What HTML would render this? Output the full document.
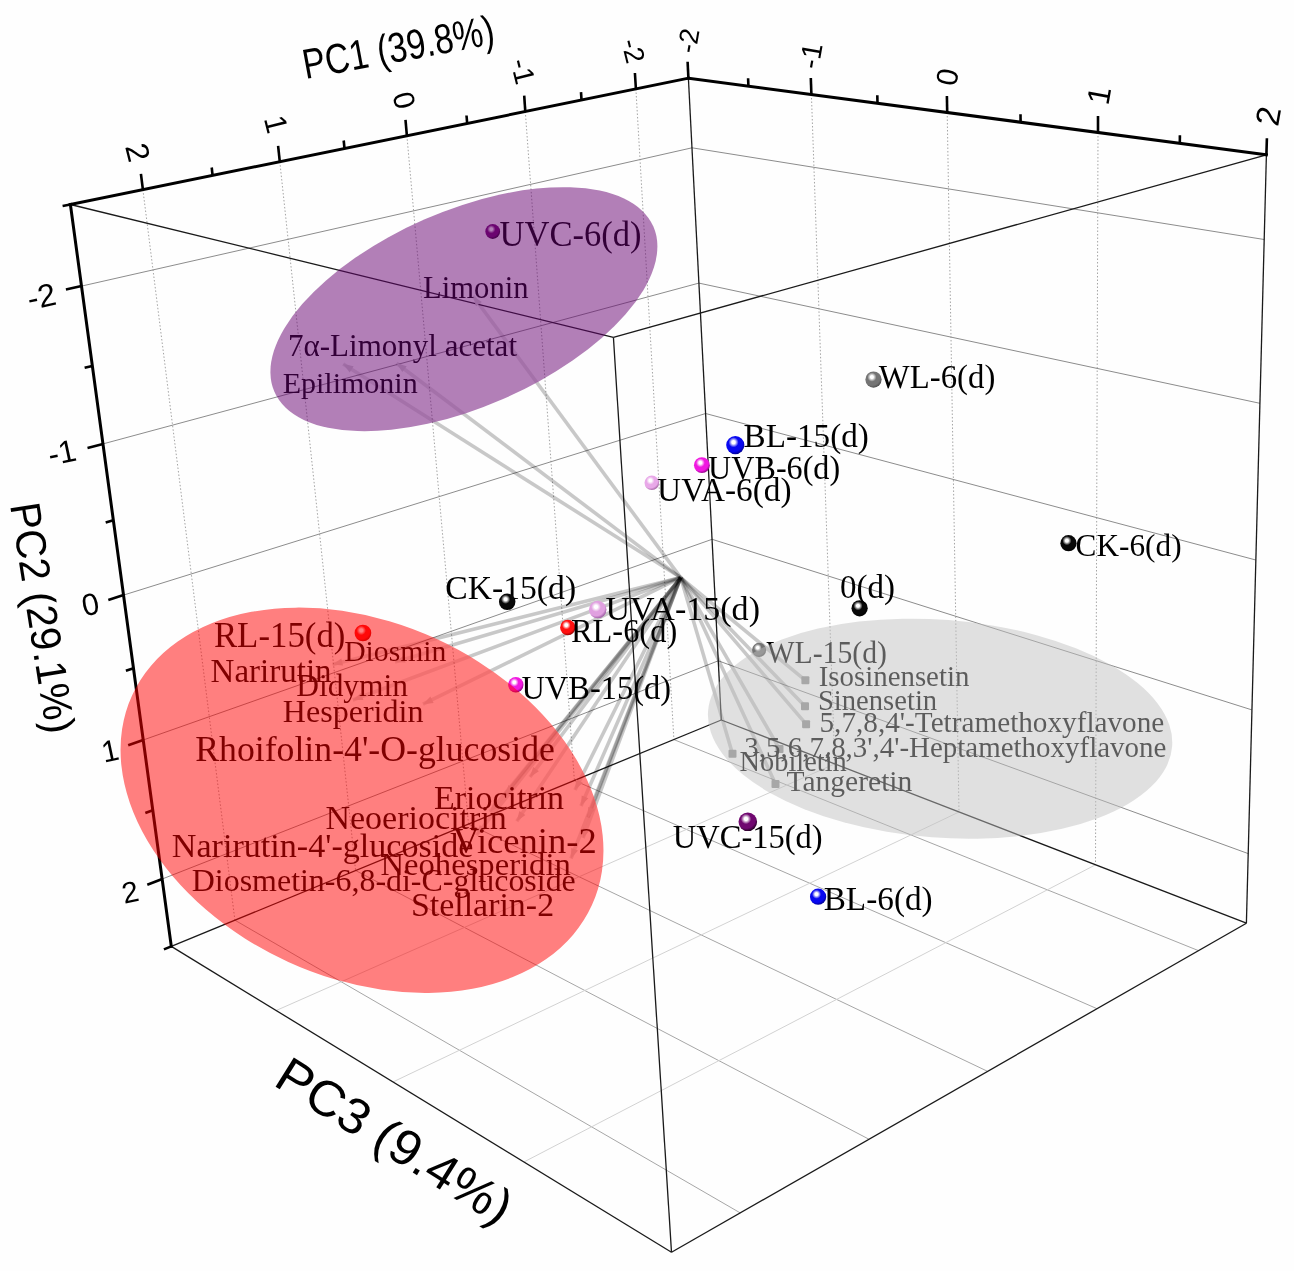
<!DOCTYPE html>
<html><head><meta charset="utf-8"><title>PCA biplot</title>
<style>html,body{margin:0;padding:0;background:#fff}svg{display:block;will-change:transform}</style></head>
<body>
<svg width="1294" height="1271" viewBox="0 0 1294 1271">
<rect width="1294" height="1271" fill="#fefefe"/>
<defs>
<filter id="soft" x="-5%" y="-5%" width="110%" height="110%"><feGaussianBlur stdDeviation="0.55"/></filter>
<mask id="mout" maskUnits="userSpaceOnUse" x="0" y="0" width="1294" height="1271"><rect width="1294" height="1271" fill="#fff"/><ellipse rx="252.7" ry="177.7" transform="translate(362,800.3) rotate(24.5)" fill="#000"/><ellipse rx="206.7" ry="98" transform="translate(463.9,309.2) rotate(-23.55)" fill="#000"/></mask>
<mask id="min" maskUnits="userSpaceOnUse" x="0" y="0" width="1294" height="1271"><rect width="1294" height="1271" fill="#000"/><ellipse rx="252.7" ry="177.7" transform="translate(362,800.3) rotate(24.5)" fill="#fff"/><ellipse rx="206.7" ry="98" transform="translate(463.9,309.2) rotate(-23.55)" fill="#fff"/></mask>
<radialGradient id="s0" cx="0.41" cy="0.36" r="0.66" fx="0.40" fy="0.34"><stop offset="0" stop-color="#fff"/><stop offset="0.14" stop-color="#fff"/><stop offset="0.42" stop-color="#700870"/><stop offset="0.75" stop-color="#700870"/><stop offset="1" stop-color="#200020"/></radialGradient>
<radialGradient id="s1" cx="0.41" cy="0.36" r="0.66" fx="0.40" fy="0.34"><stop offset="0" stop-color="#fff"/><stop offset="0.14" stop-color="#fff"/><stop offset="0.42" stop-color="#747474"/><stop offset="0.75" stop-color="#747474"/><stop offset="1" stop-color="#4c4c4c"/></radialGradient>
<radialGradient id="s2" cx="0.41" cy="0.36" r="0.66" fx="0.40" fy="0.34"><stop offset="0" stop-color="#fff"/><stop offset="0.14" stop-color="#fff"/><stop offset="0.42" stop-color="#0808f0"/><stop offset="0.75" stop-color="#0808f0"/><stop offset="1" stop-color="#000090"/></radialGradient>
<radialGradient id="s3" cx="0.41" cy="0.36" r="0.66" fx="0.40" fy="0.34"><stop offset="0" stop-color="#fff"/><stop offset="0.14" stop-color="#fff"/><stop offset="0.42" stop-color="#f018e0"/><stop offset="0.75" stop-color="#f018e0"/><stop offset="1" stop-color="#8a0080"/></radialGradient>
<radialGradient id="s4" cx="0.41" cy="0.36" r="0.66" fx="0.40" fy="0.34"><stop offset="0" stop-color="#fff"/><stop offset="0.14" stop-color="#fff"/><stop offset="0.42" stop-color="#e8a8e8"/><stop offset="0.75" stop-color="#e8a8e8"/><stop offset="1" stop-color="#a060a0"/></radialGradient>
<radialGradient id="s5" cx="0.41" cy="0.36" r="0.66" fx="0.40" fy="0.34"><stop offset="0" stop-color="#fff"/><stop offset="0.14" stop-color="#fff"/><stop offset="0.42" stop-color="#080808"/><stop offset="0.75" stop-color="#080808"/><stop offset="1" stop-color="#000"/></radialGradient>
<radialGradient id="s6" cx="0.41" cy="0.36" r="0.66" fx="0.40" fy="0.34"><stop offset="0" stop-color="#fff"/><stop offset="0.14" stop-color="#fff"/><stop offset="0.42" stop-color="#080808"/><stop offset="0.75" stop-color="#080808"/><stop offset="1" stop-color="#000"/></radialGradient>
<radialGradient id="s8" cx="0.41" cy="0.36" r="0.66" fx="0.40" fy="0.34"><stop offset="0" stop-color="#fff"/><stop offset="0.14" stop-color="#fff"/><stop offset="0.42" stop-color="#e0a0e0"/><stop offset="0.75" stop-color="#e0a0e0"/><stop offset="1" stop-color="#9858a0"/></radialGradient>
<radialGradient id="s9" cx="0.41" cy="0.36" r="0.66" fx="0.40" fy="0.34"><stop offset="0" stop-color="#fff"/><stop offset="0.14" stop-color="#fff"/><stop offset="0.42" stop-color="#ff1010"/><stop offset="0.75" stop-color="#ff1010"/><stop offset="1" stop-color="#900000"/></radialGradient>
<radialGradient id="s10" cx="0.41" cy="0.36" r="0.66" fx="0.40" fy="0.34"><stop offset="0" stop-color="#fff"/><stop offset="0.14" stop-color="#fff"/><stop offset="0.42" stop-color="#ff1010"/><stop offset="0.75" stop-color="#ff1010"/><stop offset="1" stop-color="#b00000"/></radialGradient>
<radialGradient id="s11" cx="0.41" cy="0.36" r="0.66" fx="0.40" fy="0.34"><stop offset="0" stop-color="#fff"/><stop offset="0.14" stop-color="#fff"/><stop offset="0.42" stop-color="#f018e0"/><stop offset="0.75" stop-color="#f018e0"/><stop offset="1" stop-color="#8a0080"/></radialGradient>
<radialGradient id="s12" cx="0.41" cy="0.36" r="0.66" fx="0.40" fy="0.34"><stop offset="0" stop-color="#fff"/><stop offset="0.14" stop-color="#fff"/><stop offset="0.42" stop-color="#747474"/><stop offset="0.75" stop-color="#747474"/><stop offset="1" stop-color="#4c4c4c"/></radialGradient>
<radialGradient id="s14" cx="0.41" cy="0.36" r="0.66" fx="0.40" fy="0.34"><stop offset="0" stop-color="#fff"/><stop offset="0.14" stop-color="#fff"/><stop offset="0.42" stop-color="#0808f0"/><stop offset="0.75" stop-color="#0808f0"/><stop offset="1" stop-color="#000090"/></radialGradient>
<radialGradient id="s7" cx="0.41" cy="0.36" r="0.66" fx="0.40" fy="0.34"><stop offset="0" stop-color="#fff"/><stop offset="0.14" stop-color="#fff"/><stop offset="0.42" stop-color="#080808"/><stop offset="0.75" stop-color="#080808"/><stop offset="1" stop-color="#000"/></radialGradient>
<radialGradient id="s13" cx="0.41" cy="0.36" r="0.66" fx="0.40" fy="0.34"><stop offset="0" stop-color="#fff"/><stop offset="0.14" stop-color="#fff"/><stop offset="0.42" stop-color="#700870"/><stop offset="0.75" stop-color="#700870"/><stop offset="1" stop-color="#200020"/></radialGradient>
</defs>
<g fill="none">
<line x1="635.9" y1="89.0" x2="673.9" y2="739.6" stroke="#a4a4a4" stroke-width="1" stroke-dasharray="1.5 2"/>
<line x1="525.3" y1="111.6" x2="574.4" y2="780.5" stroke="#a4a4a4" stroke-width="1" stroke-dasharray="1.5 2"/>
<line x1="406.9" y1="135.8" x2="468.5" y2="824.1" stroke="#a4a4a4" stroke-width="1" stroke-dasharray="1.5 2"/>
<line x1="279.8" y1="161.7" x2="355.6" y2="870.5" stroke="#a4a4a4" stroke-width="1" stroke-dasharray="1.5 2"/>
<line x1="142.9" y1="189.7" x2="234.9" y2="920.2" stroke="#a4a4a4" stroke-width="1" stroke-dasharray="1.5 2"/>
<line x1="81.5" y1="286.1" x2="692.0" y2="147.8" stroke="#8c8c8c" stroke-width="1" />
<line x1="103.0" y1="443.9" x2="698.9" y2="283.1" stroke="#8c8c8c" stroke-width="1" />
<line x1="123.5" y1="595.1" x2="705.6" y2="413.5" stroke="#8c8c8c" stroke-width="1" />
<line x1="143.2" y1="740.0" x2="712.1" y2="539.3" stroke="#8c8c8c" stroke-width="1" />
<line x1="162.2" y1="879.0" x2="718.3" y2="660.8" stroke="#8c8c8c" stroke-width="1" />
<line x1="811.4" y1="94.5" x2="834.8" y2="763.9" stroke="#a4a4a4" stroke-width="1" stroke-dasharray="1.5 2"/>
<line x1="947.2" y1="112.5" x2="959.0" y2="812.0" stroke="#a4a4a4" stroke-width="1" stroke-dasharray="1.5 2"/>
<line x1="1098.0" y1="132.5" x2="1095.5" y2="864.8" stroke="#a4a4a4" stroke-width="1" stroke-dasharray="1.5 2"/>
<line x1="692.0" y1="147.8" x2="1264.2" y2="239.5" stroke="#8c8c8c" stroke-width="1" />
<line x1="698.9" y1="283.1" x2="1259.9" y2="403.3" stroke="#8c8c8c" stroke-width="1" />
<line x1="705.6" y1="413.5" x2="1255.8" y2="560.0" stroke="#8c8c8c" stroke-width="1" />
<line x1="712.1" y1="539.3" x2="1251.9" y2="709.9" stroke="#8c8c8c" stroke-width="1" />
<line x1="718.3" y1="660.8" x2="1248.2" y2="853.6" stroke="#8c8c8c" stroke-width="1" />
<line x1="673.9" y1="739.6" x2="1198.4" y2="950.6" stroke="#a6a6a6" stroke-width="1" />
<line x1="574.4" y1="780.5" x2="1097.0" y2="1008.7" stroke="#a6a6a6" stroke-width="1" />
<line x1="468.5" y1="824.1" x2="987.5" y2="1071.3" stroke="#a6a6a6" stroke-width="1" />
<line x1="355.6" y1="870.5" x2="868.9" y2="1139.2" stroke="#a6a6a6" stroke-width="1" />
<line x1="234.9" y1="920.2" x2="740.2" y2="1212.9" stroke="#a6a6a6" stroke-width="1" />
<line x1="834.8" y1="763.9" x2="276.2" y2="1010.5" stroke="#d2d2d2" stroke-width="1" />
<line x1="959.0" y1="812.0" x2="393.1" y2="1081.9" stroke="#d2d2d2" stroke-width="1" />
<line x1="1095.5" y1="864.8" x2="523.9" y2="1162.0" stroke="#d2d2d2" stroke-width="1" />
</g>
<g stroke="#1a1a1a" stroke-width="1.3" fill="none">
<line x1="70.4" y1="204.5" x2="613.4" y2="337.4"/>
<line x1="1266.4" y1="154.8" x2="613.4" y2="337.4"/>
<line x1="613.4" y1="337.4" x2="671.5" y2="1252.2"/>
<line x1="171.3" y1="946.4" x2="671.5" y2="1252.2"/>
<line x1="671.5" y1="1252.2" x2="1246.4" y2="923.2"/>
<line x1="1266.4" y1="154.8" x2="1246.4" y2="923.2"/>
<line x1="688.4" y1="78.2" x2="721.3" y2="720.0"/>
<line x1="721.3" y1="720.0" x2="171.3" y2="946.4"/>
<line x1="721.3" y1="720.0" x2="1246.4" y2="923.2"/>
</g>
<g stroke="#000" stroke-width="3" stroke-linecap="square" fill="none">
<line x1="70.4" y1="204.5" x2="688.4" y2="78.2"/>
<line x1="688.4" y1="78.2" x2="1266.4" y2="154.8"/>
<line x1="70.4" y1="204.5" x2="171.3" y2="946.4"/>
</g>
<g stroke="#000" stroke-width="2.6" stroke-linecap="butt" fill="none">
<line x1="635.9" y1="89.0" x2="634.9" y2="73.0"/>
<line x1="581.5" y1="100.1" x2="581.0" y2="92.1"/>
<line x1="525.3" y1="111.6" x2="524.2" y2="95.6"/>
<line x1="467.2" y1="123.4" x2="466.5" y2="115.5"/>
<line x1="406.9" y1="135.8" x2="405.5" y2="119.8"/>
<line x1="344.5" y1="148.5" x2="343.7" y2="140.5"/>
<line x1="279.8" y1="161.7" x2="278.1" y2="145.8"/>
<line x1="212.6" y1="175.5" x2="211.7" y2="167.5"/>
<line x1="142.9" y1="189.7" x2="140.9" y2="173.8"/>
<line x1="688.4" y1="78.2" x2="687.6" y2="61.8"/>
<line x1="748.4" y1="86.2" x2="748.1" y2="78.2"/>
<line x1="811.4" y1="94.5" x2="810.8" y2="78.0"/>
<line x1="877.5" y1="103.3" x2="877.3" y2="95.3"/>
<line x1="947.2" y1="112.5" x2="946.9" y2="96.0"/>
<line x1="1020.6" y1="122.2" x2="1020.5" y2="114.2"/>
<line x1="1098.0" y1="132.5" x2="1098.0" y2="116.0"/>
<line x1="1179.8" y1="143.3" x2="1179.9" y2="135.3"/>
<line x1="1266.4" y1="154.8" x2="1266.9" y2="138.3"/>
<line x1="70.4" y1="204.5" x2="62.6" y2="206.1"/>
<line x1="81.5" y1="286.1" x2="65.9" y2="289.6"/>
<line x1="92.3" y1="365.9" x2="84.6" y2="367.8"/>
<line x1="103.0" y1="443.9" x2="87.5" y2="448.1"/>
<line x1="113.4" y1="520.3" x2="105.7" y2="522.6"/>
<line x1="123.5" y1="595.1" x2="108.3" y2="599.9"/>
<line x1="133.5" y1="668.3" x2="125.9" y2="670.8"/>
<line x1="143.2" y1="740.0" x2="128.2" y2="745.3"/>
<line x1="152.8" y1="810.2" x2="145.3" y2="813.0"/>
<line x1="162.2" y1="879.0" x2="147.3" y2="884.8"/>
<line x1="171.3" y1="946.4" x2="163.9" y2="949.4"/>
</g>
<text transform="translate(138.3,152.3) rotate(76)" x="0" y="11.4" text-anchor="middle" font-size="31.8" font-family="Liberation Sans, sans-serif" fill="#000">2</text>
<text transform="translate(276.5,124.1) rotate(76)" x="0" y="11.0" text-anchor="middle" font-size="30.7" font-family="Liberation Sans, sans-serif" fill="#000">1</text>
<text transform="translate(404.5,100.1) rotate(76)" x="0" y="10.6" text-anchor="middle" font-size="29.6" font-family="Liberation Sans, sans-serif" fill="#000">0</text>
<text transform="translate(523.2,71.2) rotate(76)" x="0" y="10.2" text-anchor="middle" font-size="28.6" font-family="Liberation Sans, sans-serif" fill="#000">-1</text>
<text transform="translate(633.5,50.7) rotate(76)" x="0" y="9.9" text-anchor="middle" font-size="27.6" font-family="Liberation Sans, sans-serif" fill="#000">-2</text>
<text transform="translate(687.9,40.6) rotate(-80)" x="0" y="9.7" text-anchor="middle" font-size="27.2" font-family="Liberation Sans, sans-serif" fill="#000">-2</text>
<text transform="translate(810.5,55.7) rotate(-80)" x="0" y="10.2" text-anchor="middle" font-size="28.5" font-family="Liberation Sans, sans-serif" fill="#000">-1</text>
<text transform="translate(947.0,76.9) rotate(-80)" x="0" y="10.7" text-anchor="middle" font-size="30.0" font-family="Liberation Sans, sans-serif" fill="#000">0</text>
<text transform="translate(1098.6,95.4) rotate(-80)" x="0" y="11.3" text-anchor="middle" font-size="31.7" font-family="Liberation Sans, sans-serif" fill="#000">1</text>
<text transform="translate(1267.7,116.0) rotate(-80)" x="0" y="12.0" text-anchor="middle" font-size="33.5" font-family="Liberation Sans, sans-serif" fill="#000">2</text>
<text transform="translate(41.3,295.9) rotate(-12)" x="0" y="11.5" text-anchor="middle" font-size="32.1" font-family="Liberation Sans, sans-serif" fill="#000">-2</text>
<text transform="translate(61.8,452.0) rotate(-12)" x="0" y="11.2" text-anchor="middle" font-size="31.4" font-family="Liberation Sans, sans-serif" fill="#000">-1</text>
<text transform="translate(90.4,604.0) rotate(-12)" x="0" y="11.0" text-anchor="middle" font-size="30.7" font-family="Liberation Sans, sans-serif" fill="#000">0</text>
<text transform="translate(110.0,750.4) rotate(-12)" x="0" y="10.8" text-anchor="middle" font-size="30.1" font-family="Liberation Sans, sans-serif" fill="#000">1</text>
<text transform="translate(130.0,891.6) rotate(-12)" x="0" y="10.6" text-anchor="middle" font-size="29.5" font-family="Liberation Sans, sans-serif" fill="#000">2</text>
<text transform="translate(305.6,79.1) rotate(-10.5)" x="0" y="0" font-size="42" textLength="194" lengthAdjust="spacingAndGlyphs" font-family="Liberation Sans, sans-serif" fill="#000">PC1 (39.8%)</text>
<text transform="translate(10.0,505.0) rotate(81)" x="0" y="0" font-size="42.5" textLength="233" lengthAdjust="spacingAndGlyphs" font-family="Liberation Sans, sans-serif" fill="#000">PC2 (29.1%)</text>
<text transform="translate(272.0,1084.5) rotate(32)" x="0" y="0" font-size="50" textLength="268" lengthAdjust="spacingAndGlyphs" font-family="Liberation Sans, sans-serif" fill="#000">PC3 (9.4%)</text>
<g mask="url(#mout)"><g stroke="#000" stroke-opacity="0.21" stroke-width="3.6" fill="none" filter="url(#soft)">
<line x1="680.7" y1="577.6" x2="473.0" y2="296.0"/>
<line x1="680.7" y1="577.6" x2="396.5" y2="363.2"/>
<line x1="680.7" y1="577.6" x2="343.2" y2="364.0"/>
<line x1="680.7" y1="577.6" x2="332.5" y2="664.5"/>
<line x1="680.7" y1="577.6" x2="395.0" y2="662.0"/>
<line x1="680.7" y1="577.6" x2="352.8" y2="700.0"/>
<line x1="680.7" y1="577.6" x2="423.0" y2="704.2"/>
<line x1="680.7" y1="577.6" x2="476.4" y2="835.1"/>
<line x1="680.7" y1="577.6" x2="490.0" y2="812.0"/>
<line x1="680.7" y1="577.6" x2="505.0" y2="795.0"/>
<line x1="680.7" y1="577.6" x2="530.0" y2="777.0"/>
<line x1="680.7" y1="577.6" x2="516.8" y2="821.2"/>
<line x1="680.7" y1="577.6" x2="575.0" y2="790.0"/>
<line x1="680.7" y1="577.6" x2="581.0" y2="806.0"/>
<line x1="680.7" y1="577.6" x2="588.0" y2="817.5"/>
<line x1="680.7" y1="577.6" x2="571.0" y2="858.5"/>
<line x1="680.7" y1="577.6" x2="583.0" y2="838.0"/>
<line x1="680.7" y1="577.6" x2="805.4" y2="680.3"/>
<line x1="680.7" y1="577.6" x2="805.0" y2="706.2"/>
<line x1="680.7" y1="577.6" x2="806.1" y2="724.2"/>
<line x1="680.7" y1="577.6" x2="779.5" y2="749.0"/>
<line x1="680.7" y1="577.6" x2="732.5" y2="753.8"/>
<line x1="680.7" y1="577.6" x2="775.5" y2="784.0"/>
</g></g>
<g mask="url(#min)"><g stroke="#000" stroke-opacity="0.11" stroke-width="3.6" fill="none" filter="url(#soft)">
<line x1="680.7" y1="577.6" x2="473.0" y2="296.0"/>
<line x1="680.7" y1="577.6" x2="396.5" y2="363.2"/>
<line x1="680.7" y1="577.6" x2="343.2" y2="364.0"/>
<line x1="680.7" y1="577.6" x2="332.5" y2="664.5"/>
<line x1="680.7" y1="577.6" x2="395.0" y2="662.0"/>
<line x1="680.7" y1="577.6" x2="352.8" y2="700.0"/>
<line x1="680.7" y1="577.6" x2="423.0" y2="704.2"/>
<line x1="680.7" y1="577.6" x2="476.4" y2="835.1"/>
<line x1="680.7" y1="577.6" x2="490.0" y2="812.0"/>
<line x1="680.7" y1="577.6" x2="505.0" y2="795.0"/>
<line x1="680.7" y1="577.6" x2="530.0" y2="777.0"/>
<line x1="680.7" y1="577.6" x2="516.8" y2="821.2"/>
<line x1="680.7" y1="577.6" x2="575.0" y2="790.0"/>
<line x1="680.7" y1="577.6" x2="581.0" y2="806.0"/>
<line x1="680.7" y1="577.6" x2="588.0" y2="817.5"/>
<line x1="680.7" y1="577.6" x2="571.0" y2="858.5"/>
<line x1="680.7" y1="577.6" x2="583.0" y2="838.0"/>
<line x1="680.7" y1="577.6" x2="805.4" y2="680.3"/>
<line x1="680.7" y1="577.6" x2="805.0" y2="706.2"/>
<line x1="680.7" y1="577.6" x2="806.1" y2="724.2"/>
<line x1="680.7" y1="577.6" x2="779.5" y2="749.0"/>
<line x1="680.7" y1="577.6" x2="732.5" y2="753.8"/>
<line x1="680.7" y1="577.6" x2="775.5" y2="784.0"/>
</g></g>
<g fill="#d4d4d4">
<polygon points="473.0,296.0 481.8,301.9 476.0,306.2"/>
<polygon points="396.5,363.2 406.7,366.3 402.3,372.1"/>
<polygon points="343.2,364.0 353.6,366.3 349.7,372.4"/>
<polygon points="332.5,664.5 341.3,658.6 343.1,665.6"/>
<polygon points="395.0,662.0 403.6,655.7 405.6,662.6"/>
<polygon points="352.8,700.0 360.9,693.1 363.4,699.9"/>
<polygon points="423.0,704.2 430.4,696.6 433.6,703.0"/>
<polygon points="476.4,835.1 479.8,825.0 485.4,829.5"/>
<polygon points="490.0,812.0 493.5,802.0 499.1,806.5"/>
<polygon points="505.0,795.0 508.5,785.0 514.1,789.5"/>
<polygon points="530.0,777.0 533.2,766.9 538.9,771.2"/>
<polygon points="516.8,821.2 519.4,810.9 525.4,814.9"/>
<polygon points="575.0,790.0 576.2,779.4 582.7,782.7"/>
<polygon points="581.0,806.0 581.7,795.4 588.3,798.3"/>
<polygon points="588.0,817.5 588.2,806.9 595.0,809.5"/>
<polygon points="571.0,858.5 571.3,847.9 578.0,850.5"/>
<polygon points="583.0,838.0 583.1,827.4 589.9,829.9"/>
</g>
<g fill="#909090">
<rect x="801.4" y="676.3" width="8" height="8" rx="1"/>
<rect x="801.0" y="702.2" width="8" height="8" rx="1"/>
<rect x="802.1" y="720.2" width="8" height="8" rx="1"/>
<rect x="775.5" y="745.0" width="8" height="8" rx="1"/>
<rect x="728.5" y="749.8" width="8" height="8" rx="1"/>
<rect x="771.5" y="780.0" width="8" height="8" rx="1"/>
</g>
<text x="423.0" y="297.7" font-size="30.6" textLength="105.6" lengthAdjust="spacingAndGlyphs" font-family="Liberation Serif, serif" fill="#000">Limonin</text>
<text x="288.0" y="356.0" font-size="30.9" textLength="229.0" lengthAdjust="spacingAndGlyphs" font-family="Liberation Serif, serif" fill="#000">7α-Limonyl acetat</text>
<text x="282.7" y="392.6" font-size="30.0" textLength="135.0" lengthAdjust="spacingAndGlyphs" font-family="Liberation Serif, serif" fill="#000">Epilimonin</text>
<text x="344.2" y="660.5" font-size="29.7" textLength="102.2" lengthAdjust="spacingAndGlyphs" font-family="Liberation Serif, serif" fill="#000">Diosmin</text>
<text x="210.6" y="681.8" font-size="33.0" textLength="121.0" lengthAdjust="spacingAndGlyphs" font-family="Liberation Serif, serif" fill="#000">Narirutin</text>
<text x="296.2" y="696.4" font-size="31.4" textLength="111.8" lengthAdjust="spacingAndGlyphs" font-family="Liberation Serif, serif" fill="#000">Didymin</text>
<text x="282.8" y="722.3" font-size="32.1" textLength="140.7" lengthAdjust="spacingAndGlyphs" font-family="Liberation Serif, serif" fill="#000">Hesperidin</text>
<text x="195.2" y="760.9" font-size="35.7" textLength="359.7" lengthAdjust="spacingAndGlyphs" font-family="Liberation Serif, serif" fill="#000">Rhoifolin-4'-O-glucoside</text>
<text x="433.9" y="809.1" font-size="34.0" textLength="130.2" lengthAdjust="spacingAndGlyphs" font-family="Liberation Serif, serif" fill="#000">Eriocitrin</text>
<text x="325.4" y="829.0" font-size="34.0" textLength="181.5" lengthAdjust="spacingAndGlyphs" font-family="Liberation Serif, serif" fill="#000">Neoeriocitrin</text>
<text x="452.7" y="853.2" font-size="36.0" textLength="144.0" lengthAdjust="spacingAndGlyphs" font-family="Liberation Serif, serif" fill="#000">Vicenin-2</text>
<text x="171.8" y="857.1" font-size="34.1" textLength="301.7" lengthAdjust="spacingAndGlyphs" font-family="Liberation Serif, serif" fill="#000">Narirutin-4'-glucoside</text>
<text x="380.5" y="874.6" font-size="32.6" textLength="190.3" lengthAdjust="spacingAndGlyphs" font-family="Liberation Serif, serif" fill="#000">Neohesperidin</text>
<text x="191.8" y="891.3" font-size="31.9" textLength="384.0" lengthAdjust="spacingAndGlyphs" font-family="Liberation Serif, serif" fill="#000">Diosmetin-6,8-di-C-glucoside</text>
<text x="410.9" y="915.5" font-size="33.9" textLength="143.2" lengthAdjust="spacingAndGlyphs" font-family="Liberation Serif, serif" fill="#000">Stellarin-2</text>
<text x="818.7" y="685.7" font-size="28.9" textLength="150.7" lengthAdjust="spacingAndGlyphs" font-family="Liberation Serif, serif" fill="#000">Isosinensetin</text>
<text x="817.9" y="709.8" font-size="28.6" textLength="119.3" lengthAdjust="spacingAndGlyphs" font-family="Liberation Serif, serif" fill="#000">Sinensetin</text>
<text x="819.5" y="732.3" font-size="29.0" textLength="344.8" lengthAdjust="spacingAndGlyphs" font-family="Liberation Serif, serif" fill="#000">5,7,8,4'-Tetramethoxyflavone</text>
<text x="744.3" y="757.2" font-size="28.9" textLength="422.0" lengthAdjust="spacingAndGlyphs" font-family="Liberation Serif, serif" fill="#000">3,5,6,7,8,3',4'-Heptamethoxyflavone</text>
<text x="739.5" y="771.3" font-size="28.4" textLength="107.3" lengthAdjust="spacingAndGlyphs" font-family="Liberation Serif, serif" fill="#000">Nobiletin</text>
<text x="786.5" y="791.4" font-size="29.0" textLength="125.8" lengthAdjust="spacingAndGlyphs" font-family="Liberation Serif, serif" fill="#000">Tangeretin</text>
<circle cx="492.7" cy="231.5" r="7.38" fill="url(#s0)"/>
<circle cx="873.5" cy="379.6" r="8.13" fill="url(#s1)"/>
<circle cx="735.3" cy="445.1" r="9.1" fill="url(#s2)"/>
<circle cx="701.9" cy="465.2" r="7.92" fill="url(#s3)"/>
<circle cx="651.8" cy="482.8" r="7.28" fill="url(#s4)"/>
<circle cx="1068.5" cy="543.2" r="8.13" fill="url(#s5)"/>
<circle cx="859.6" cy="608.3" r="8.13" fill="url(#s6)"/>
<circle cx="597.7" cy="609.6" r="8.77" fill="url(#s8)"/>
<circle cx="567.8" cy="627.5" r="7.7" fill="url(#s9)"/>
<circle cx="362.9" cy="633.0" r="8.35" fill="url(#s10)"/>
<circle cx="515.8" cy="684.7" r="7.7" fill="url(#s11)"/>
<circle cx="759.1" cy="649.9" r="7.06" fill="url(#s12)"/>
<circle cx="818.1" cy="896.7" r="8.13" fill="url(#s14)"/>
<text x="499.5" y="245.6" font-size="35.3" textLength="142.0" lengthAdjust="spacingAndGlyphs" font-family="Liberation Serif, serif" fill="#000">UVC-6(d)</text>
<text x="878.8" y="388.0" font-size="34.0" textLength="116.5" lengthAdjust="spacingAndGlyphs" font-family="Liberation Serif, serif" fill="#000">WL-6(d)</text>
<text x="743.6" y="446.8" font-size="34.1" textLength="125.2" lengthAdjust="spacingAndGlyphs" font-family="Liberation Serif, serif" fill="#000">BL-15(d)</text>
<text x="708.1" y="479.3" font-size="33.1" textLength="132.0" lengthAdjust="spacingAndGlyphs" font-family="Liberation Serif, serif" fill="#000">UVB-6(d)</text>
<text x="657.1" y="500.9" font-size="33.3" textLength="134.5" lengthAdjust="spacingAndGlyphs" font-family="Liberation Serif, serif" fill="#000">UVA-6(d)</text>
<text x="1075.6" y="556.0" font-size="32.2" textLength="106.0" lengthAdjust="spacingAndGlyphs" font-family="Liberation Serif, serif" fill="#000">CK-6(d)</text>
<text x="840.1" y="598.3" font-size="34.0" textLength="55.0" lengthAdjust="spacingAndGlyphs" font-family="Liberation Serif, serif" fill="#000">0(d)</text>
<text x="445.3" y="598.9" font-size="34.6" textLength="130.8" lengthAdjust="spacingAndGlyphs" font-family="Liberation Serif, serif" fill="#000">CK-15(d)</text>
<text x="605.5" y="620.0" font-size="34.1" textLength="154.5" lengthAdjust="spacingAndGlyphs" font-family="Liberation Serif, serif" fill="#000">UVA-15(d)</text>
<text x="570.9" y="641.6" font-size="33.4" textLength="106.3" lengthAdjust="spacingAndGlyphs" font-family="Liberation Serif, serif" fill="#000">RL-6(d)</text>
<text x="213.9" y="647.2" font-size="35.6" textLength="131.5" lengthAdjust="spacingAndGlyphs" font-family="Liberation Serif, serif" fill="#000">RL-15(d)</text>
<text x="521.4" y="698.5" font-size="33.5" textLength="149.6" lengthAdjust="spacingAndGlyphs" font-family="Liberation Serif, serif" fill="#000">UVB-15(d)</text>
<text x="766.4" y="662.6" font-size="30.6" textLength="120.6" lengthAdjust="spacingAndGlyphs" font-family="Liberation Serif, serif" fill="#000">WL-15(d)</text>
<text x="672.7" y="848.2" font-size="33.5" textLength="150.0" lengthAdjust="spacingAndGlyphs" font-family="Liberation Serif, serif" fill="#000">UVC-15(d)</text>
<text x="823.7" y="909.8" font-size="34.3" textLength="109.0" lengthAdjust="spacingAndGlyphs" font-family="Liberation Serif, serif" fill="#000">BL-6(d)</text>
<circle cx="507.2" cy="601.8" r="8.24" fill="url(#s7)"/>
<circle cx="747.8" cy="821.8" r="9.31" fill="url(#s13)"/>
<ellipse cx="0" cy="0" rx="206.7" ry="98" transform="translate(463.9,309.2) rotate(-23.55)" fill="#660070" fill-opacity="0.5"/>
<ellipse cx="0" cy="0" rx="252.7" ry="177.7" transform="translate(362,800.3) rotate(24.5)" fill="#ff0000" fill-opacity="0.5"/>
<ellipse cx="0" cy="0" rx="232.7" ry="108.9" transform="translate(940.1,728.7) rotate(4.36)" fill="#c0c0c0" fill-opacity="0.48"/>
</svg>
</body></html>
